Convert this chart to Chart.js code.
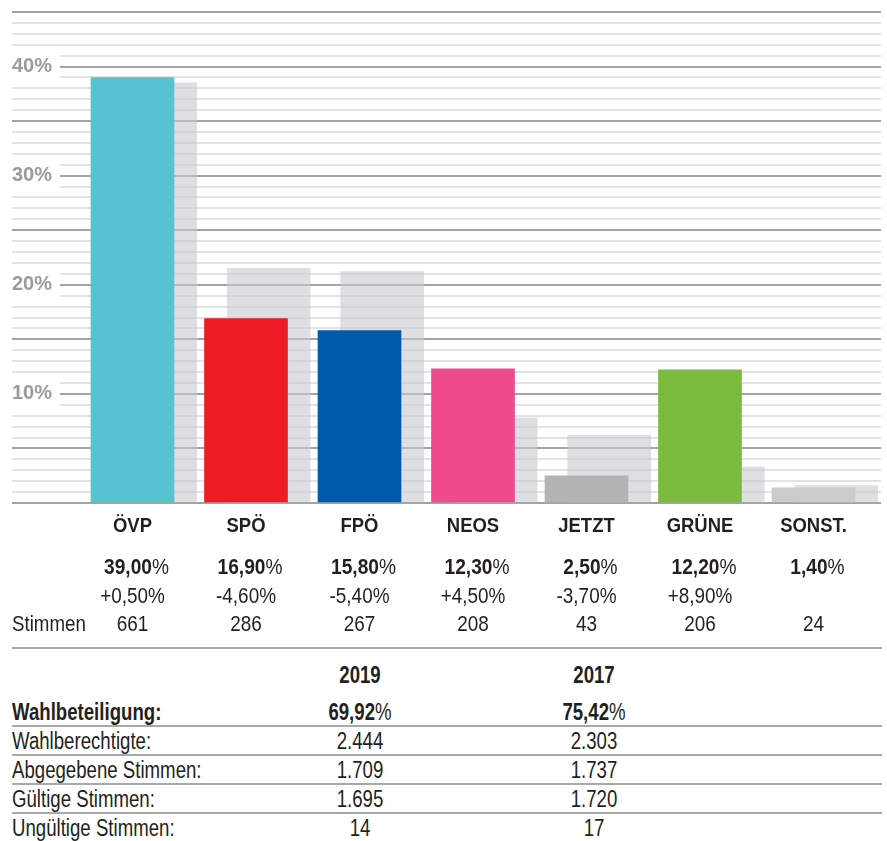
<!DOCTYPE html>
<html>
<head>
<meta charset="utf-8">
<script src="https://cdn.jsdelivr.net/npm/chart.js@4"></script>
<style>
  body { margin: 0; background: #fff; font-family: "Liberation Sans", Arial, sans-serif; color: #231f20; }
  #wrap { position: relative; width: 887px; height: 841px; overflow: hidden; }
  #chart-box { position: absolute; left: 0; top: 0; width: 887px; height: 648px; }
  #table { position: absolute; left: 12px; top: 647px; width: 870px; border-top: 2px solid #a9a9a9; }
  .row { position: absolute; left: 0; width: 870px; height: 28px; line-height: 28px; font-size: 23px; }
  .row.line { border-top: 2px solid #a9a9a9; }
  .row span { position: absolute; top: 0; transform: scaleX(0.81); }
  .lab { left: 0; transform-origin: left center; white-space: nowrap; }
  .c19 { left: 288px; width: 120px; text-align: center; }
  .c17 { left: 522px; width: 120px; text-align: center; }
</style>
</head>
<body>
<div id="wrap">
  <div id="chart-box"><canvas id="chart1"></canvas></div>
  <div id="table"></div>
</div>
<script>
const FONT = '"Liberation Sans", Arial, sans-serif';

// Ergebnis 2019 / 2017 in %
const parties = ['ÖVP', 'SPÖ', 'FPÖ', 'NEOS', 'JETZT', 'GRÜNE', 'SONST.'];
const share2019 = [39.0, 16.9, 15.8, 12.3, 2.5, 12.2, 1.4];
const share2017 = [38.5, 21.5, 21.2, 7.8, 6.2, 3.3, 1.6];
const changeLabels = ['+0,50%', '-4,60%', '-5,40%', '+4,50%', '-3,70%', '+8,90%', ''];
const votes = ['661', '286', '267', '208', '43', '206', '24'];
const partyColors = ['#56c4d0', '#ed1c24', '#005aa9', '#ef4b8c', '#b3b3b3', '#7aba3f', '#cbcbcb'];
const yLabelTicks = [10, 20, 30, 40];

// Wahlbeteiligung
const years = ['2019', '2017'];
const turnoutLabel = 'Wahlbeteiligung:';
const turnout = ['69,92', '75,42'];
const rowLabels = ['Wahlberechtigte:', 'Abgegebene Stimmen:', 'Gültige Stimmen:', 'Ungültige Stimmen:'];
const rows2019 = ['2.444', '1.709', '1.695', '14'];
const rows2017 = ['2.303', '1.737', '1.720', '17'];

// layout of the bar groups (pixels)
const areaLeft = 12, areaRight = 881, firstCenter = 132.5, step = 113.5;
const xMin = -(firstCenter - areaLeft) / step;
const xMax = xMin + (areaRight - areaLeft) / step;
const prevOffset = 0.2;

function fmt(v) { return v.toFixed(2).replace('.', ','); }

// no narrow font installed -> squeeze the text horizontally
function narrowText(ctx, parts, x, y, align, sx) {
  let total = 0;
  parts.forEach(p => { ctx.font = p.font; p.w = ctx.measureText(p.text).width; total += p.w; });
  let start = align === 'center' ? -total / 2 : 0;
  ctx.save();
  ctx.translate(x, y);
  ctx.scale(sx, 1);
  ctx.textAlign = 'left';
  parts.forEach(p => {
    ctx.font = p.font;
    ctx.fillText(p.text, start, 0);
    start += p.w;
  });
  ctx.restore();
}

const labelsPlugin = {
  id: 'labelsUnder',
  afterDraw(chart) {
    const ctx = chart.ctx;
    const xs = chart.scales.x;
    const bold = 'bold 22px ' + FONT, normal = '22px ' + FONT;
    ctx.save();
    ctx.fillStyle = '#231f20';
    ctx.textBaseline = 'middle';
    parties.forEach((p, i) => {
      const cx = xs.getPixelForValue(i);
      narrowText(ctx, [{text: p, font: 'bold 21px ' + FONT}], cx, 526, 'center', 0.88);
      narrowText(ctx, [{text: fmt(share2019[i]), font: bold}, {text: '%', font: normal}], cx + 4, 568, 'center', 0.87);
      narrowText(ctx, [{text: changeLabels[i], font: normal}], cx, 597, 'center', 0.86);
      narrowText(ctx, [{text: votes[i], font: normal}], cx, 625, 'center', 0.86);
    });
    narrowText(ctx, [{text: 'Stimmen', font: normal}], 12, 625, 'left', 0.85);
    ctx.restore();
  }
};

const data = {
  datasets: [{
    label: '2019',
    data: share2019.map((v, i) => ({x: i, y: v})),
    backgroundColor: partyColors,
    order: 0
  }, {
    label: '2017',
    data: share2017.map((v, i) => ({x: i + prevOffset, y: v})),
    backgroundColor: 'rgba(200,202,206,0.6)',
    order: 1
  }]
};

const isLabelTick = v => yLabelTicks.includes(v);

const config = {
  type: 'bar',
  data,
  options: {
    responsive: true,
    maintainAspectRatio: false,
    animation: false,
    layout: { padding: { left: areaLeft, top: 12, right: 887 - areaRight, bottom: 145 } },
    datasets: { bar: { grouped: false, barThickness: 83, borderWidth: 0 } },
    plugins: { legend: { display: false }, tooltip: { enabled: false } },
    scales: {
      x: { type: 'linear', min: xMin, max: xMax, offset: false, bounds: 'data', display: false },
      y: {
        min: 0,
        max: 45,
        border: { display: false },
        grid: {
          drawTicks: false,
          color: c => c.tick.value % 5 === 0 ? '#a3a3a3' : '#e3e3e3',
          lineWidth: 2
        },
        ticks: {
          stepSize: 1,
          autoSkip: false,
          mirror: true,
          padding: 0,
          color: '#9b9b9b',
          font: { family: FONT, size: 20, weight: 'bold', lineHeight: 1.1 },
          showLabelBackdrop: true,
          backdropColor: c => isLabelTick(c.tick.value) ? '#ffffff' : 'rgba(0,0,0,0)',
          backdropPadding: { left: 0, top: 2, right: 8, bottom: 2 },
          callback: v => isLabelTick(v) ? v + '%' : ''
        }
      }
    }
  },
  plugins: [labelsPlugin]
};

const myChart = new Chart(document.getElementById('chart1'), config);

// Tabelle unten
const table = document.getElementById('table');
function addRow(top, html, line) {
  const d = document.createElement('div');
  d.className = 'row' + (line ? ' line' : '');
  d.style.top = top + 'px';
  d.innerHTML = html;
  table.appendChild(d);
}
addRow(12, '<span class="c19"><b>' + years[0] + '</b></span><span class="c17"><b>' + years[1] + '</b></span>');
addRow(49, '<span class="lab"><b>' + turnoutLabel + '</b></span><span class="c19"><b>' + turnout[0] + '</b>%</span><span class="c17"><b>' + turnout[1] + '</b>%</span>');
rowLabels.forEach((l, i) => {
  addRow(76 + i * 29, '<span class="lab">' + l + '</span><span class="c19">' + rows2019[i] + '</span><span class="c17">' + rows2017[i] + '</span>', true);
});
</script>
</body>
</html>
